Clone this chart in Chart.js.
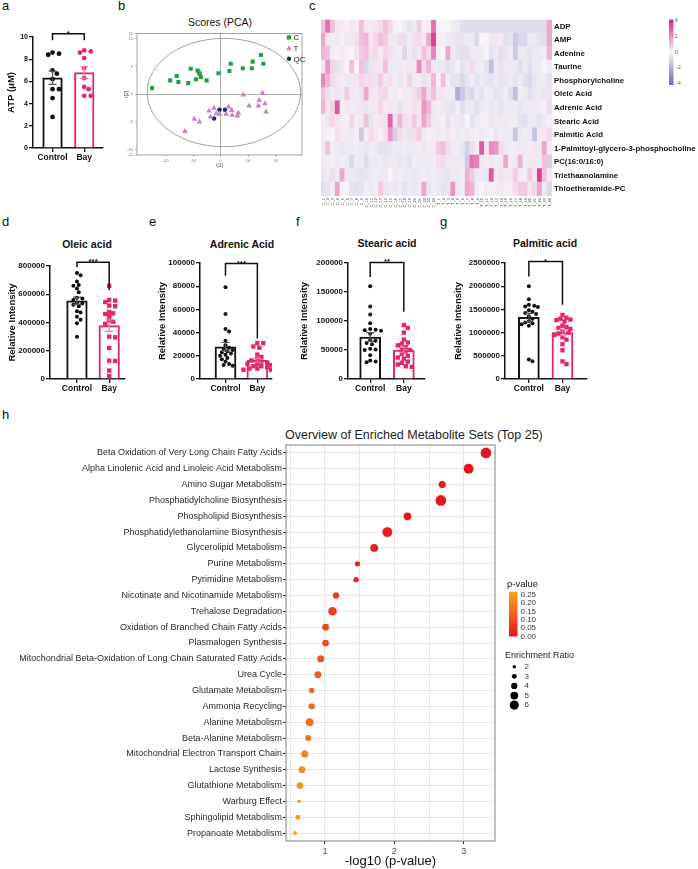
<!DOCTYPE html>
<html>
<head>
<meta charset="utf-8">
<script src="https://cdn.jsdelivr.net/npm/chart.js@4.4.1/dist/chart.umd.min.js"></script>
<style>
body { margin: 0; background: #fff; width: 698px; height: 869px; position: relative; overflow: hidden; font-family: "Liberation Sans", Arial, sans-serif; }
canvas { position: absolute; }
.t { position: absolute; white-space: nowrap; line-height: 1; color: #111; }
.lt { font-size: 13px; }
.pt { font-size: 10.5px; font-weight: bold; width: 140px; text-align: center; }
</style>
</head>
<body>
<div class="t lt" style="left:2px;top:-1px">a</div>
<div class="t lt" style="left:118px;top:-1px">b</div>
<div class="t lt" style="left:309px;top:-1px">c</div>
<div class="t lt" style="left:2px;top:215px">d</div>
<div class="t lt" style="left:149px;top:215px">e</div>
<div class="t lt" style="left:296px;top:215px">f</div>
<div class="t lt" style="left:440px;top:215px">g</div>
<div class="t lt" style="left:2px;top:408px">h</div>
<div class="t" style="left:150px;top:17px;width:140px;text-align:center;font-size:10.5px">Scores (PCA)</div>
<div class="t pt" style="left:17px;top:239px">Oleic acid</div>
<div class="t pt" style="left:172px;top:239px">Adrenic Acid</div>
<div class="t pt" style="left:317px;top:238px">Stearic acid</div>
<div class="t pt" style="left:475px;top:238px">Palmitic acid</div>
<div class="t" style="left:285px;top:429px;font-size:12.5px;color:#222">Overview of Enriched Metabolite Sets (Top 25)</div>

<canvas id="cA"></canvas>
<canvas id="cB"></canvas>
<canvas id="cC"></canvas>
<canvas id="cD"></canvas>
<canvas id="cE"></canvas>
<canvas id="cF"></canvas>
<canvas id="cG"></canvas>
<canvas id="cH"></canvas>

<script>
// ---- data ----
var groups = ['Control', 'Bay'];

var atpControl = [8.6, 8.5, 8.4, 7.0, 6.7, 6.2, 5.3, 5.3, 4.5, 2.8];
var atpBay = [8.8, 8.7, 8.6, 8.1, 7.2, 6.3, 5.5, 5.3, 4.7, 4.7];
var atpSig = [10.3, 9.7, 9.7];

var oleicControl = [750000, 735000, 690000, 665000, 660000, 640000, 615000, 575000, 570000, 560000, 540000, 535000, 525000, 515000, 480000, 470000, 440000, 420000, 395000, 300000];
var oleicBay = [660000, 560000, 555000, 545000, 520000, 515000, 475000, 465000, 460000, 445000, 415000, 405000, 390000, 300000, 295000, 220000, 130000, 128000, 60000, 20000];
var oleicSig = [826000, 791000, 628000];

var adrenicControl = [79000, 56000, 43000, 41000, 33000, 29000, 27000, 26000, 25000, 24000, 23000, 22000, 21000, 20000, 18000, 17000, 15000, 13000, 12000, 11500];
var adrenicBay = [31000, 31000, 28000, 27000, 21000, 19000, 17000, 16000, 15000, 14000, 13000, 13000, 12000, 11000, 11000, 10000, 9000, 9000, 8000, 8000];
var adrenicSig = [99500, 89000, 35000];

var stearicControl = [160000, 125000, 111000, 96000, 86000, 85000, 84000, 83000, 78000, 67000, 66000, 62000, 60000, 52000, 51000, 50000, 41000, 32000, 30000, 29000];
var stearicBay = [93000, 88000, 80000, 68000, 63000, 61000, 58000, 55000, 52000, 50000, 47000, 43000, 40000, 37000, 35000, 30000, 28000, 25000, 22000, 21000];
var stearicSig = [201000, 176000, 116000];

var palmiticControl = [2000000, 1720000, 1600000, 1580000, 1560000, 1550000, 1480000, 1450000, 1420000, 1400000, 1350000, 1300000, 1250000, 1220000, 1200000, 1180000, 1150000, 420000, 380000];
var palmiticBay = [1380000, 1320000, 1300000, 1280000, 1270000, 1240000, 1150000, 1120000, 1100000, 1080000, 1020000, 1000000, 980000, 950000, 900000, 850000, 750000, 620000, 380000, 320000];
var palmiticSig = [2530000, 2210000, 1600000];

// PCA scores [t1, t2]
var pcaC = [[-25, 1.1], [-18.4, 2.5], [-16, 3.3], [-15.4, 2.2], [-11.8, 2.0], [-10.9, 4.6], [-9, 2.7], [-8.4, 4.3], [-7.9, 3.9], [-7.6, 3.6], [-7.2, 3.1], [-5.1, 2.5], [-0.8, 3.8], [3.2, 4.2], [3.7, 5.5], [8.1, 4.7], [11.4, 4.7], [11.7, 5.9], [14.7, 7.1], [15.6, 5.5]];
var pcaT = [[-13, -6.7], [-9.6, -4.5], [-7.7, -5.0], [-4.2, -3.0], [-2.4, -2.5], [-3.7, -4.1], [-1.6, -3.5], [-0.4, -3.6], [2.9, -2.3], [4.1, -2.9], [2.0, -3.6], [4.2, -3.8], [6.1, -3.9], [6.5, -3.4], [8.3, -0.1], [10.4, -2.1], [13.8, -2.1], [14.1, -1.1], [15.3, 0.2], [16.2, -1.7], [16.6, -3.2]];
var pcaQC = [[-0.4, -2.8], [1.6, -2.8], [-2.4, -4.4]];
var pcaEllipse = [1.2, 0.3, 28, 9.8];

// heatmap (z-scores), columns C_1..C_24, T_1..T_24
var heatRows = ['ADP', 'AMP', 'Adenine', 'Taurine', 'Phosphorylcholine', 'Oleic Acid', 'Adrenic Acid', 'Stearic Acid', 'Palmitic Acid', '1-Palmitoyl-glycero-3-phosphocholine', 'PC(16:0/16:0)', 'Triethaanolamine', 'Thioetheramide-PC'];
var hmADP = [1, 2.5, 1, 0.3, 0.2, 0.1, 0.3, 0.2, 1, 0.3, 0.2, 0.3, 0.5, 1, 0.6, 0.1, 0, -0.2, -0.5, -0.3, 0.8, 0.1, 0.2, 2.5, 0.1, 0, 0, -0.2, -0.3, -0.6, -0.7, -0.7, -0.7, -0.7, -0.7, -0.7, -0.7, -0.7, -0.7, -0.7, -0.7, -0.7, -0.7, -0.7, -0.7, -0.7, -0.7, 1.5];
var hmAMP = [1.5, 0.3, 0.2, -0.3, 0.1, -0.3, -0.3, 0.4, 1, 1.2, 0.3, 0.6, 1, 0.8, 0.3, -0.3, 0.5, -0.5, 0.2, 0.4, 0.5, 0.3, 1.5, 3.5, 0.2, 0.1, -0.3, -0.3, -0.5, -0.4, -0.3, -0.3, -0.8, 0, 0, -0.3, 0.3, -0.2, -0.6, -0.5, -1.2, -0.8, -0.8, -0.3, -0.3, -0.5, -0.6, 1.5];
var hmAdenine = [1.2, 1, 0.2, 0.1, 0.2, 0.1, 0, 0.3, 0.8, 1, 0.4, 0.5, 0.2, 0.6, 0.4, -0.3, -0.2, -0.8, 0.2, -0.5, 0.3, 1, 0.5, 2.2, 0.1, 0, 1.5, -0.3, -0.5, -0.6, -0.6, -0.3, -0.3, -0.2, 0, -0.5, -0.3, -0.6, -0.4, -0.2, -1.2, -0.3, -0.3, -0.5, -0.3, -0.3, -0.2, 1.2];
var hmTaurine = [0.3, 1.8, 0.6, -0.5, 0.3, 0, 1, 0, 1, -0.8, -0.4, 0.3, 0.3, 1, -0.3, -0.3, -0.3, 0.2, -0.3, 0.3, 2, 0.5, 1.2, 0.3, -0.4, 0.3, -0.6, -0.4, 0.1, -0.5, -0.3, 0.5, -0.3, 0.2, -0.5, -1.5, -0.3, -0.5, 0.3, -0.3, -0.3, -0.6, -0.3, -0.6, -0.3, -0.3, 0, -0.2];
var hmPhosphorylcholine = [2, 1.2, 0.5, 0.3, -0.2, -0.3, -0.3, 0.3, 0.6, 0.4, 0.5, -0.4, 0.8, 0.3, 0.4, -0.2, -0.4, 0.2, 0.6, -0.3, 0.2, -0.5, 0.3, 1.2, 0.1, 1, -0.2, -0.5, -0.5, -0.8, -0.5, -0.2, -0.5, -0.3, -0.4, -0.5, -0.3, -0.5, -0.4, -0.3, -0.5, -0.3, -0.6, -0.8, -0.4, -0.3, -0.3, -0.5];
var hmOleic = [1, 0.4, 0.2, -0.4, -0.3, 0.8, -0.3, 0.2, -0.4, 1.5, 0.3, -0.3, 0.5, 0.6, -0.2, -0.3, 0.1, 0.2, 0.2, 0.4, 0.7, 1.5, 0.5, 1, 0.3, 0.3, 0.2, -0.2, -2, -1.3, -0.6, -0.8, -0.3, -0.5, -0.2, -0.3, -0.5, -0.4, -0.2, -0.6, -1.5, -0.2, -0.3, -0.6, -0.4, -0.3, -0.4, 0.4];
var hmAdrenic = [1.2, 0.3, 0.6, 3, 0.1, -0.3, 0.2, -0.3, 0.3, -0.4, -0.3, 0.3, 0.6, 0.2, 0.3, -0.3, -0.5, 0.3, 0.2, 0.4, 0.3, 1.8, 1.2, 0.3, -0.2, 0.3, -0.4, -0.5, -0.2, -0.6, -0.3, -0.3, -0.6, -0.3, -0.2, -0.4, -0.3, -0.5, -0.3, -0.3, -0.3, -0.4, -0.3, -0.3, -0.3, 0.2, 0.1, 0.5];
var hmStearic = [0.2, -0.4, 0.6, 0.3, 0.2, 0.1, 0.6, 0.2, -0.3, 1, -0.4, 0.2, 0.3, 0.4, 2.8, 0.4, 1.2, 0.4, 0.3, 0.8, 0.3, 1.5, 0.8, -0.3, 0.2, 0.1, -0.5, 0.2, -0.3, -0.4, 0, -0.5, -0.3, 0.2, -0.2, -0.4, -0.3, 0.3, -0.3, 0.2, -0.2, -0.5, -0.6, -0.3, -0.3, -0.5, -0.3, 0.1];
var hmPalmitic = [0.2, 0.1, 0, 0.4, -0.2, 0.2, -0.3, 0.1, -1.2, -0.2, 0.5, 0.3, 0.1, 0.4, 1.8, -1, 0.5, -0.3, 0.4, 0.4, 0.8, -0.3, 0.1, 0.2, -0.3, -0.2, 0.3, 0.1, -0.3, -0.2, -0.3, -0.2, 0.1, -0.3, -0.2, 0.1, -0.4, -0.2, -0.3, -0.3, -1.3, -0.3, -0.2, -0.3, -1.4, 0.2, 0.3, 0.5];
var hmLysoPC = [-0.3, 1, -0.2, -0.3, -0.4, -0.3, -0.3, -0.2, -0.3, -0.4, -0.2, -0.3, -0.5, -0.5, -0.4, -0.3, -0.3, -0.2, -0.3, -0.3, -0.2, 0.3, -0.2, 0.2, 0.8, 1, 0.5, -0.3, -0.2, -0.4, -1, -0.5, 0.2, 3, 0.3, 2, 1.8, 0.5, -0.3, -0.2, 0.2, -0.3, -0.3, 0.2, 0.3, -0.3, 1.5, 0.2];
var hmPC = [-0.3, -0.2, 0.1, -0.3, -0.2, -0.3, -0.8, -0.3, -0.3, -0.7, -0.3, -0.3, -0.2, -0.4, -0.3, -0.3, -0.4, -0.3, -0.5, -0.2, -0.3, -0.3, -0.3, -0.2, 0.4, 0.5, -0.3, -0.3, 0.3, -0.3, -1.2, 2.5, 2.2, -0.3, 0.2, -0.3, -0.2, -0.3, 1.5, -0.2, -0.3, 1.3, -0.2, -0.3, 0.3, -0.3, 1, -1];
var hmTriethanolamine = [-0.4, -0.3, -0.5, -0.3, 1.5, -0.3, -0.3, -0.4, -0.5, -0.4, -0.3, -0.2, -0.3, 0.3, 0, -0.3, -0.2, -0.3, -0.3, -0.4, -0.3, -0.2, -0.3, -0.2, -0.3, -0.4, -0.5, -0.3, -0.3, -0.2, 1.3, 0.8, -0.3, -0.3, -0.4, 3, 0.2, 0.4, -0.3, 0.3, 0.8, 0.2, -0.2, 0.8, 0.3, 3.5, 1, -0.3];
var hmThioetheramide = [-0.6, -0.5, 0.2, 1.5, 0, 0, -0.5, -0.6, -0.5, -0.2, -0.3, -0.2, 0.8, -0.4, -0.3, -0.4, -0.3, -0.5, -0.3, -0.4, -0.3, 1.5, -0.4, -0.2, -0.3, -0.5, -0.4, 1.8, -0.3, -0.2, 1.5, 1.2, -0.2, 0, 0.2, -0.2, 0.2, -0.3, 0.2, -0.2, 0.5, 0.8, 0.8, 0.3, 0.6, 1.5, -0.3, -0.8];
var heatValues = [hmADP, hmAMP, hmAdenine, hmTaurine, hmPhosphorylcholine, hmOleic, hmAdrenic, hmStearic, hmPalmitic, hmLysoPC, hmPC, hmTriethanolamine, hmThioetheramide];
var heatTicks = [4, 2, 0, -2, -4];
var heatCols = [];
for (var i = 1; i <= 24; i++) heatCols.push('C_' + i);
for (var i = 1; i <= 24; i++) heatCols.push('T_' + i);

// metabolite set enrichment
var setNames = ['Beta Oxidation of Very Long Chain Fatty Acids', 'Alpha Linolenic Acid and Linoleic Acid Metabolism', 'Amino Sugar Metabolism', 'Phosphatidylcholine Biosynthesis', 'Phospholipid Biosynthesis', 'Phosphatidylethanolamine Biosynthesis', 'Glycerolipid Metabolism', 'Purine Metabolism', 'Pyrimidine Metabolism', 'Nicotinate and Nicotinamide Metabolism', 'Trehalose Degradation', 'Oxidation of Branched Chain Fatty Acids', 'Plasmalogen Synthesis', 'Mitochondrial Beta-Oxidation of Long Chain Saturated Fatty Acids', 'Urea Cycle', 'Glutamate Metabolism', 'Ammonia Recycling', 'Alanine Metabolism', 'Beta-Alanine Metabolism', 'Mitochondrial Electron Transport Chain', 'Lactose Synthesis', 'Glutathione Metabolism', 'Warburg Effect', 'Sphingolipid Metabolism', 'Propanoate Metabolism'];
var setLog10p = [3.32, 3.07, 2.69, 2.67, 2.19, 1.90, 1.71, 1.47, 1.45, 1.16, 1.11, 1.01, 1.01, 0.94, 0.90, 0.81, 0.81, 0.78, 0.76, 0.71, 0.67, 0.64, 0.63, 0.61, 0.57];
var setRatio = [7.0, 6.5, 4.6, 7.0, 5.0, 6.5, 5.0, 3.3, 3.3, 4.0, 5.5, 4.3, 4.3, 4.5, 4.5, 3.5, 4.0, 5.0, 3.8, 4.5, 4.3, 4.3, 2.0, 3.0, 2.5];
var pTicks = [0.25, 0.20, 0.15, 0.10, 0.05, 0.00];
var ratioTicks = [2, 3, 4, 5, 6];

// ---- helpers ----
var FONT = "'Liberation Sans', Arial, sans-serif";
var PINK = '#e8246e';
Chart.defaults.font.family = FONT;
Chart.defaults.color = '#111';
Chart.defaults.animation = false;
Chart.defaults.responsive = false;
Chart.defaults.plugins.legend.display = false;
Chart.defaults.plugins.tooltip.enabled = false;

function mean(a) { return a.reduce(function (s, v) { return s + v; }, 0) / a.length; }
function sem(a) {
    var m = mean(a);
    var v = a.reduce(function (s, x) { return s + (x - m) * (x - m); }, 0) / (a.length - 1);
    return Math.sqrt(v / a.length);
}

// box: chart area l/r/t/b, w = left axis width, ra = right axis width, h = bottom axis height
function placeCanvas(id, box) {
    var cv = document.getElementById(id);
    var left = Math.round(box.l - box.w - (box.pl || 0));
    var top = Math.round(box.t - box.pt);
    cv.style.left = left + 'px';
    cv.style.top = top + 'px';
    cv.width = Math.round(box.r + (box.ra || 0) + box.pr - left);
    cv.height = Math.round(box.b + box.h - top);
    return cv;
}

// spread points sideways so they do not overlap (simple beeswarm)
function swarm(vals, pxY, pxX, r) {
    var order = vals.map(function (v, i) { return i; }).sort(function (a, b) { return vals[b] - vals[a]; });
    var placed = [], out = [];
    order.forEach(function (i) {
        var y = vals[i] * pxY, dx = 0;
        for (var k = 0; k < 60; k++) {
            dx = (k % 2 ? 1 : -1) * Math.ceil(k / 2) * r * 0.9;
            var ok = placed.every(function (p) {
                var a = dx - p[0], b = y - p[1];
                return a * a + b * b >= 3.6 * r * r;
            });
            if (ok) break;
        }
        placed.push([dx, y]);
        out[i] = dx / pxX;
    });
    return out;
}

function errorBars(means, sems) {
    return {
        id: 'errorBars',
        afterDatasetsDraw: function (chart) {
            var x = chart.scales.x, y = chart.scales.y, ctx = chart.ctx;
            ctx.save();
            ctx.lineWidth = 1.2;
            [0, 1].forEach(function (i) {
                var px = x.getPixelForValue(i);
                var top = y.getPixelForValue(means[i] + sems[i]);
                var bot = y.getPixelForValue(means[i] - sems[i]);
                ctx.strokeStyle = i ? '#f07aa8' : '#555';
                ctx.beginPath();
                ctx.moveTo(px, top); ctx.lineTo(px, bot);
                ctx.moveTo(px - 4, top); ctx.lineTo(px + 4, top);
                ctx.moveTo(px - 4, bot); ctx.lineTo(px + 4, bot);
                ctx.stroke();
            });
            ctx.restore();
        }
    };
}

function bracket(sig, text) {
    return {
        id: 'bracket',
        afterDatasetsDraw: function (chart) {
            var x = chart.scales.x, y = chart.scales.y, ctx = chart.ctx;
            var x0 = x.getPixelForValue(0), x1 = x.getPixelForValue(1), yt = y.getPixelForValue(sig[0]);
            ctx.save();
            ctx.strokeStyle = '#111';
            ctx.lineWidth = 1.5;
            ctx.beginPath();
            ctx.moveTo(x0, y.getPixelForValue(sig[1]));
            ctx.lineTo(x0, yt);
            ctx.lineTo(x1, yt);
            ctx.lineTo(x1, y.getPixelForValue(sig[2]));
            ctx.stroke();
            ctx.fillStyle = '#111';
            ctx.font = 'bold 8px ' + FONT;
            ctx.textAlign = 'center';
            ctx.textBaseline = 'alphabetic';
            ctx.fillText(text, (x0 + x1) / 2, yt + 2);
            ctx.restore();
        }
    };
}

function dotPlot(id, box, ctrl, bay, sig, o) {
    var cv = placeCanvas(id, box);
    var pxY = (box.b - box.t) / o.ymax;
    var pxX = (box.r - box.l) / (o.xmax - o.xmin);
    var jc = swarm(ctrl, pxY, pxX, o.r);
    var jb = swarm(bay, pxY, pxX, o.rs);
    var means = [mean(ctrl), mean(bay)];
    var sems = [sem(ctrl), sem(bay)];
    new Chart(cv, {
        type: 'bar',
        data: {
            datasets: [
                { type: 'bar', data: [{ x: 0, y: means[0] }, { x: 1, y: means[1] }], backgroundColor: '#fff', borderColor: ['#111', PINK], borderWidth: 2, barThickness: o.bw, order: 2 },
                { type: 'scatter', data: ctrl.map(function (v, i) { return { x: jc[i], y: v }; }), pointStyle: 'circle', pointRadius: o.r, backgroundColor: '#111', borderWidth: 0, order: 1 },
                { type: 'scatter', data: bay.map(function (v, i) { return { x: 1 + jb[i], y: v }; }), pointStyle: o.bayStyle, pointRadius: o.rb, backgroundColor: PINK, borderWidth: 0, order: 1 }
            ]
        },
        options: {
            devicePixelRatio: 1,
            layout: { padding: { left: 0, top: box.pt, right: box.pr, bottom: 0 } },
            scales: {
                x: {
                    type: 'linear', min: o.xmin, max: o.xmax, offset: false,
                    afterBuildTicks: function (s) { s.ticks = [{ value: 0 }, { value: 1 }]; },
                    ticks: { callback: function (v) { return groups[v]; }, font: { weight: 'bold', size: 8.5 }, color: '#111', padding: 1, maxRotation: 0, autoSkip: false },
                    grid: { offset: false, drawOnChartArea: false, color: '#111', tickLength: 4, lineWidth: 1.3 },
                    border: { color: '#111', width: 1.5 },
                    afterFit: function (s) { s.height = box.h; }
                },
                y: {
                    min: 0, max: o.ymax,
                    ticks: { stepSize: o.step, font: { weight: 'bold', size: o.tickSize }, color: '#111', padding: 1, callback: function (v) { return String(v); } },
                    grid: { drawOnChartArea: false, color: '#111', tickLength: 4, lineWidth: 1.3 },
                    border: { color: '#111', width: 1.5 },
                    title: { display: true, text: o.ytitle, font: { weight: 'bold', size: 9.5 }, color: '#111', padding: { top: box.tp, bottom: 0 } },
                    afterFit: function (s) { s.width = box.w; }
                }
            }
        },
        plugins: [errorBars(means, sems), bracket(sig, o.stars)]
    });
}

// ---- a: ATP ----
dotPlot('cA', { l: 33, r: 103, t: 36.7, b: 148.3, w: 33, h: 20, pt: 20, pr: 4, tp: 6 }, atpControl, atpBay, atpSig,
    { ymax: 10, step: 2, xmin: -0.615, xmax: 1.59, bw: 19.6, r: 2.4, rs: 2.4, rb: 2.4, bayStyle: 'circle', tickSize: 7, ytitle: 'ATP (μM)', stars: '*' });

// ---- d-g: fatty acids ----
dotPlot('cD', { l: 50, r: 125, t: 265.7, b: 379, w: 50, h: 20, pt: 22, pr: 4, tp: 7 }, oleicControl, oleicBay, oleicSig,
    { ymax: 800000, step: 200000, xmin: -0.836, xmax: 1.49, bw: 20.6, r: 2, rs: 2.2, rb: 3.1, bayStyle: 'rect', tickSize: 8, ytitle: 'Relative Intensity', stars: '***' });
dotPlot('cE', { l: 200, r: 272, t: 263.3, b: 379, w: 50, h: 20, pt: 22, pr: 4, tp: 7 }, adrenicControl, adrenicBay, adrenicSig,
    { ymax: 100000, step: 20000, xmin: -0.8, xmax: 1.46, bw: 21, r: 2, rs: 2.2, rb: 3.1, bayStyle: 'rect', tickSize: 8, ytitle: 'Relative Intensity', stars: '***' });
dotPlot('cF', { l: 348.3, r: 425, t: 262.7, b: 379, w: 58, h: 20, pt: 22, pr: 4, tp: 9 }, stearicControl, stearicBay, stearicSig,
    { ymax: 200000, step: 50000, xmin: -0.66, xmax: 1.63, bw: 21, r: 2, rs: 2.2, rb: 3.1, bayStyle: 'rect', tickSize: 8, ytitle: 'Relative Intensity', stars: '**' });
dotPlot('cG', { l: 505, r: 587, t: 263.3, b: 379.3, w: 60, h: 20, pt: 22, pr: 4, tp: 7.5 }, palmiticControl, palmiticBay, palmiticSig,
    { ymax: 2500000, step: 500000, xmin: -0.71, xmax: 1.73, bw: 21, r: 2, rs: 2.2, rb: 3.1, bayStyle: 'rect', tickSize: 8, ytitle: 'Relative Intensity', stars: '*' });

// ---- b: PCA scores ----
(function () {
    var box = { l: 137, r: 304, t: 31, b: 155, w: 17, h: 15, pt: 2, pr: 2 };
    var cv = placeCanvas('cB', box);
    var toXY = function (p) { return { x: p[0], y: p[1] }; };
    var sets = [
        { label: 'C', data: pcaC.map(toXY), pointStyle: 'rect', pointRadius: 2.9, backgroundColor: '#23a043', borderWidth: 0 },
        { label: 'T', data: pcaT.map(toXY), pointStyle: 'triangle', pointRadius: 3.3, backgroundColor: '#cc80c6', borderWidth: 0 },
        { label: 'QC', data: pcaQC.map(toXY), pointStyle: 'circle', pointRadius: 2.3, backgroundColor: '#1e2a6b', borderWidth: 0 }
    ];
    var zeroLine = function (c) { return c.tick && c.tick.value === 0 ? '#9a9a9a' : 'rgba(0,0,0,0)'; };
    var pcaDecor = {
        id: 'pcaDecor',
        beforeDatasetsDraw: function (chart) {
            var a = chart.chartArea, x = chart.scales.x, y = chart.scales.y, ctx = chart.ctx;
            ctx.save();
            ctx.strokeStyle = '#8c8c8c';
            ctx.lineWidth = 0.8;
            ctx.strokeRect(a.left, a.top, a.right - a.left, a.bottom - a.top);
            var cx = x.getPixelForValue(pcaEllipse[0]), cy = y.getPixelForValue(pcaEllipse[1]);
            var rx = Math.abs(x.getPixelForValue(pcaEllipse[0] + pcaEllipse[2]) - cx);
            var ry = Math.abs(y.getPixelForValue(pcaEllipse[1] + pcaEllipse[3]) - cy);
            ctx.strokeStyle = '#8a8a8a';
            ctx.beginPath();
            ctx.ellipse(cx, cy, rx, ry, 0, 0, 2 * Math.PI);
            ctx.stroke();
            ctx.restore();
        },
        afterDatasetsDraw: function (chart) {
            var a = chart.chartArea, ctx = chart.ctx;
            ctx.save();
            ctx.font = '8px ' + FONT;
            ctx.textBaseline = 'middle';
            sets.forEach(function (ds, i) {
                var mx = a.right - 13, my = a.top + 4 + i * 10.7;
                ctx.fillStyle = ds.backgroundColor;
                ctx.beginPath();
                if (ds.pointStyle === 'rect') ctx.rect(mx - 2.2, my - 2.2, 4.4, 4.4);
                else if (ds.pointStyle === 'triangle') { ctx.moveTo(mx, my - 2.8); ctx.lineTo(mx + 2.8, my + 2.2); ctx.lineTo(mx - 2.8, my + 2.2); ctx.closePath(); }
                else ctx.arc(mx, my, 2.2, 0, 2 * Math.PI);
                ctx.fill();
                ctx.fillStyle = '#222';
                ctx.fillText(ds.label, mx + 4.5, my + 0.5);
            });
            ctx.restore();
        }
    };
    new Chart(cv, {
        type: 'scatter',
        data: { datasets: sets },
        options: {
            devicePixelRatio: 1,
            layout: { padding: { left: 0, top: box.pt, right: box.pr, bottom: 0 } },
            scales: {
                x: {
                    min: -30.5, max: 29.7,
                    afterBuildTicks: function (s) { s.ticks = s.ticks.filter(function (t) { return Math.abs(t.value) <= 20; }); },
                    ticks: { stepSize: 10, font: { size: 4 }, color: '#777', padding: 1 },
                    grid: { color: zeroLine, tickColor: '#aaa', tickLength: 2, lineWidth: 0.8 },
                    border: { display: false },
                    title: { display: true, text: 't[1]', font: { size: 5 }, color: '#555', padding: { top: 0, bottom: 1 } },
                    afterFit: function (s) { s.height = box.h; }
                },
                y: {
                    min: -11, max: 11,
                    ticks: { stepSize: 5, font: { size: 4 }, color: '#777', padding: 2 },
                    grid: { color: zeroLine, tickColor: '#aaa', tickLength: 2, lineWidth: 0.8 },
                    border: { display: false },
                    title: { display: true, text: 't[2]', font: { size: 5 }, color: '#555', padding: { top: 4, bottom: 0 } },
                    afterFit: function (s) { s.width = box.w; }
                }
            }
        },
        plugins: [pcaDecor]
    });
})();

// ---- c: heatmap ----
var heatLow = [104, 104, 182], heatMid = [248, 244, 248], heatHigh = [212, 38, 134];
function mixColor(a, b, t) {
    return 'rgb(' + Math.round(a[0] + (b[0] - a[0]) * t) + ',' + Math.round(a[1] + (b[1] - a[1]) * t) + ',' + Math.round(a[2] + (b[2] - a[2]) * t) + ')';
}
function heatColor(v) {
    var t = Math.max(-4, Math.min(4, v)) / 4;
    return t < 0 ? mixColor(heatMid, heatLow, -t) : mixColor(heatMid, heatHigh, t);
}
(function () {
    var box = { l: 321, r: 552, t: 15, b: 195.7, w: 0, pl: 3, ra: 146, h: 14, pt: 2, pr: 0 };
    var cv = placeCanvas('cC', box);
    var cvLeft = parseFloat(cv.style.left), cvTop = parseFloat(cv.style.top);
    var sets = [];
    for (var k = heatRows.length - 1; k >= 0; k--) {
        sets.push({
            label: heatRows[k],
            data: heatCols.map(function () { return 1; }),
            backgroundColor: heatValues[k].map(heatColor),
            borderWidth: 0, inflateAmount: 0.6,
            barPercentage: 1, categoryPercentage: 1, stack: 'heat'
        });
    }
    var colorBar = {
        id: 'colorBar',
        afterDraw: function (chart) {
            var ctx = chart.ctx;
            var x0 = 669 - cvLeft, y0 = 19.5 - cvTop, y1 = 85 - cvTop;
            var g = ctx.createLinearGradient(0, y0, 0, y1);
            g.addColorStop(0, heatColor(4));
            g.addColorStop(0.5, heatColor(0));
            g.addColorStop(1, heatColor(-4));
            ctx.save();
            ctx.fillStyle = g;
            ctx.fillRect(x0, y0, 4.5, y1 - y0);
            ctx.fillStyle = '#555';
            ctx.font = '5px ' + FONT;
            ctx.textBaseline = 'middle';
            heatTicks.forEach(function (v) {
                var yy = y0 + 1.2 + (4 - v) / 8 * (y1 - y0 - 2.4);
                ctx.fillText(v < 0 ? '\u2212' + (-v) : String(v), x0 + 6, yy);
            });
            ctx.restore();
        }
    };
    new Chart(cv, {
        type: 'bar',
        data: { labels: heatCols, datasets: sets },
        options: {
            devicePixelRatio: 1,
            layout: { padding: { left: box.pl, top: box.pt, right: box.pr, bottom: 0 } },
            scales: {
                x: {
                    stacked: true,
                    grid: { display: false, drawTicks: false, tickLength: 0 }, border: { display: false },
                    ticks: { autoSkip: false, minRotation: 90, maxRotation: 90, font: { size: 4 }, color: '#444', padding: 2 },
                    afterFit: function (s) { s.height = box.h; }
                },
                y: { stacked: true, min: 0, max: heatRows.length, display: false },
                y2: {
                    type: 'category', labels: heatRows, position: 'right', offset: true,
                    grid: { display: false, drawTicks: false, tickLength: 0 }, border: { display: false },
                    ticks: { font: { weight: 'bold', size: 7.8 }, color: '#111', padding: 2, autoSkip: false },
                    afterFit: function (s) { s.width = box.ra; }
                }
            }
        },
        plugins: [colorBar]
    });
})();

// ---- h: enrichment bubble chart ----
var pLow = [232, 20, 28], pHigh = [248, 168, 30];
var pVals = setLog10p.map(function (v) { return Math.pow(10, -v); });
var pMin = Math.min.apply(null, pVals), pMax = Math.max.apply(null, pVals);
function pColor(p) { return mixColor(pLow, pHigh, (p - pMin) / (pMax - pMin)); }
function ratioRadius(r) { return 0.25 + 0.725 * r; }
(function () {
    var box = { l: 286, r: 495, t: 445, b: 841, w: 286, h: 28, pt: 20, pr: 203 };
    var cv = placeCanvas('cH', box);
    var cvLeft = parseFloat(cv.style.left), cvTop = parseFloat(cv.style.top);
    var isInt = function (v) { return Math.abs(v - Math.round(v)) < 1e-6; };
    var hDecor = {
        id: 'hDecor',
        afterDraw: function (chart) {
            var a = chart.chartArea, ctx = chart.ctx;
            ctx.save();
            ctx.strokeStyle = '#8a8a8a';
            ctx.lineWidth = 1.1;
            ctx.strokeRect(a.left, a.top, a.right - a.left, a.bottom - a.top);
            // p-value colour bar
            var bx = 509 - cvLeft, by0 = 591.7 - cvTop, by1 = 636.5 - cvTop;
            var g = ctx.createLinearGradient(0, by1, 0, by0);
            g.addColorStop(0, pColor(pMin));
            g.addColorStop(1, pColor(pMax));
            ctx.fillStyle = g;
            ctx.fillRect(bx, by0, 8.5, by1 - by0);
            ctx.fillStyle = '#222';
            ctx.font = '9.5px ' + FONT;
            ctx.textBaseline = 'middle';
            ctx.fillText('p-value', 507 - cvLeft, 584 - cvTop);
            ctx.font = '8px ' + FONT;
            ctx.fillStyle = '#333';
            pTicks.forEach(function (p) {
                var yy = by1 - (p - pMin) / (pMax - pMin) * (by1 - by0);
                ctx.fillText(p.toFixed(2), 520.5 - cvLeft, yy);
            });
            // enrichment ratio size legend
            ctx.fillStyle = '#222';
            ctx.font = '9px ' + FONT;
            ctx.fillText('Enrichment Ratio', 505 - cvLeft, 655.7 - cvTop);
            ratioTicks.forEach(function (r, i) {
                var yy = 666.7 + i * 9.6 - cvTop;
                ctx.fillStyle = '#000';
                ctx.beginPath();
                ctx.arc(514.3 - cvLeft, yy, ratioRadius(r), 0, 2 * Math.PI);
                ctx.fill();
                ctx.fillStyle = '#333';
                ctx.font = '8px ' + FONT;
                ctx.fillText(String(r), 524.5 - cvLeft, yy);
            });
            ctx.restore();
        }
    };
    new Chart(cv, {
        type: 'bubble',
        data: {
            datasets: [{
                data: setNames.map(function (n, i) { return { x: setLog10p[i], y: n, r: ratioRadius(setRatio[i]) }; }),
                backgroundColor: pVals.map(pColor),
                borderWidth: 0
            }]
        },
        options: {
            devicePixelRatio: 1,
            layout: { padding: { left: 0, top: box.pt, right: box.pr, bottom: 0 } },
            scales: {
                x: {
                    type: 'linear', min: 0.44, max: 3.45,
                    ticks: { stepSize: 0.5, includeBounds: false, callback: function (v) { return isInt(v) ? String(Math.round(v)) : ''; }, font: { size: 9 }, color: '#4d4d4d', padding: 2, maxRotation: 0 },
                    grid: { color: '#e6e6e6', lineWidth: 1, tickLength: 3, tickColor: function (c) { return c.tick && isInt(c.tick.value) ? '#333' : 'rgba(0,0,0,0)'; } },
                    border: { display: false },
                    title: { display: true, text: '-log10 (p-value)', font: { size: 13 }, color: '#111', padding: { top: 0, bottom: 0 } },
                    afterFit: function (s) { s.height = box.h; }
                },
                y: {
                    type: 'category', labels: setNames, offset: true,
                    grid: { offset: false, color: '#e6e6e6', lineWidth: 1, tickLength: 3, tickColor: '#333' },
                    border: { display: false },
                    ticks: { font: { size: 9 }, color: '#2a2a2a', padding: 1, autoSkip: false },
                    afterFit: function (s) { s.width = box.w; }
                }
            }
        },
        plugins: [hDecor]
    });
})();
</script>
</body>
</html>
